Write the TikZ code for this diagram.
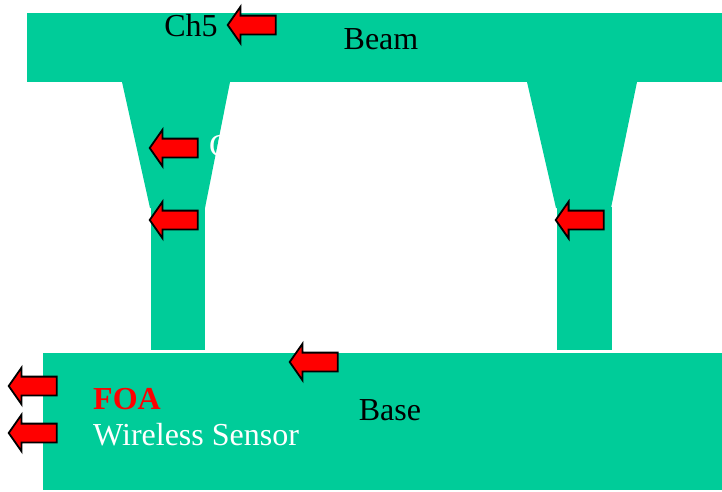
\documentclass[tikz,border=0pt]{standalone}
\usepackage{fontspec}
\setmainfont{Liberation Serif}
\usetikzlibrary{shapes.arrows}
\definecolor{frame}{RGB}{0,204,153}

\begin{document}
\begin{tikzpicture}[x=1pt, y=-1pt, part/.style={fill=frame, draw=none
}, redarr/.style={single arrow, draw=black, fill=red, line width=1.8pt, shape border rotate=180, minimum height=48pt, minimum width=36pt, inner xsep=0pt, inner ysep=8.5pt, single arrow head extend=9pt, single arrow tip angle=110
}, lbl/.style={font=\fontsize{32}{38}\selectfont, inner sep=0pt}]
\useasboundingbox (0,0) rectangle (722,491);

% frame
\fill[part] (27,13) rectangle (722,82);
\fill[part] (122,82) -- (230,82) -- (205,208) -- (150,208) -- cycle;
\fill[part] (527,82) -- (637,82) -- (611,208) -- (556,208) -- cycle;
\fill[part] (151,207) rectangle (205,350);
\fill[part] (557,207) rectangle (612,350);
\fill[part] (43,353) rectangle (722,490);

\node[lbl] (ch5) at (191,26) {Ch5};
\node[lbl] (beam) at (381,39) {Beam};
\node[lbl] (base) at (390,410) {Base};
\node[lbl, anchor=west, text=white] (chw) at (209,146) {C};
\node[lbl, anchor=west, text=red, font=\fontsize{32}{38}\selectfont\bfseries] (foa) at (93,399) {FOA};
\node[lbl, anchor=west, text=white] (ws) at (93,435) {Wireless Sensor};

\foreach \n/\x/\y in {a/255/25,b/177/148,c/177/220,d/583/220,e/317/362,f/36/386,g/36/433}{
\node[redarr] (arr\n) at (\x,\y) {};}
\end{tikzpicture}
\end{document}
